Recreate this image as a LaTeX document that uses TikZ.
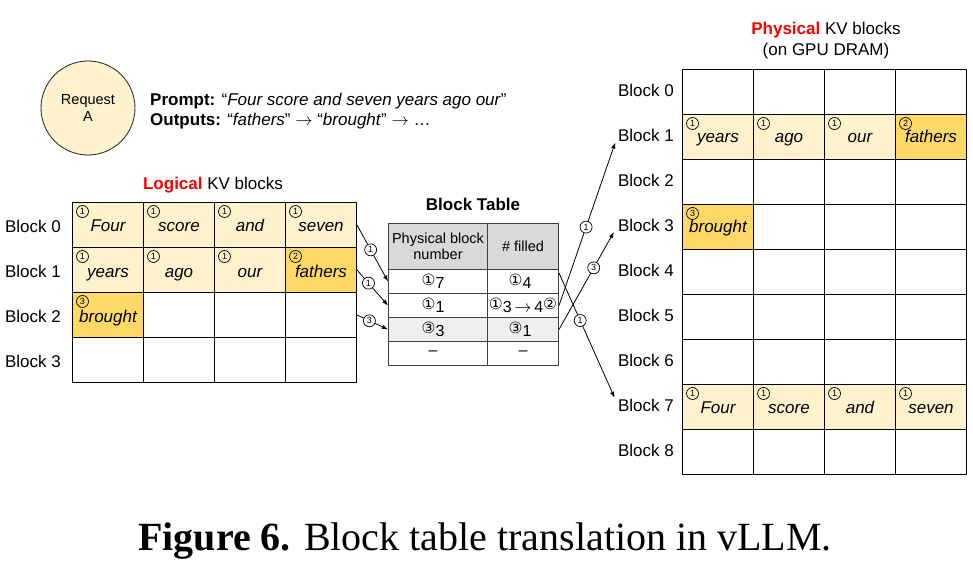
\documentclass[tikz,border=0pt]{standalone}
\usepackage{fontspec}
\setmainfont{Liberation Sans}
\newfontfamily\capfont{Liberation Serif}
\newfontfamily\symfont{DejaVu Sans}
\usetikzlibrary{arrows.meta}
\definecolor{kvlite}{HTML}{FFF2CC}
\definecolor{kvdark}{HTML}{FFD966}
\definecolor{hdrgrey}{HTML}{D9D9D9}
\definecolor{rowgrey}{HTML}{EFEFEF}
\definecolor{kvred}{HTML}{FF0000}
\newcommand{\cnum}[1]{\raisebox{2.5pt}{\symfont\fontsize{15.5}{15.5}\selectfont #1}}

\begin{document}
\begin{tikzpicture}[x=1pt,y=-1pt,
    cell/.style={draw, line width=1pt, minimum width=71pt, minimum height=45pt, inner sep=0pt,
        anchor=north west, text height=15pt, text depth=3pt, font=\fontsize{17}{17}\selectfont\itshape},
    num/.style={draw, circle, line width=0.7pt, inner sep=0pt, minimum size=12pt, font=\fontsize{9}{9}\selectfont},
    lbl/.style={anchor=east, inner sep=0pt, font=\fontsize{17}{17}\selectfont},
    tcell/.style={draw=black!75, line width=1pt, inner sep=0pt, anchor=north west, font=\fontsize{16}{16}\selectfont},
    link/.style={-{Latex[length=6pt,width=4.5pt]}, line width=0.8pt}]
    \useasboundingbox (0,0) rectangle (973,569);

    \node[draw=black!80, fill=kvlite, circle, line width=0.9pt, minimum size=94pt, align=center,
        font=\fontsize{14.5}{17}\selectfont] (req) at (88,108) {Request\\A};
    \node[anchor=base west, inner sep=0pt, font=\fontsize{17}{17}\selectfont] (prompt) at (150,105.5)
        {\textbf{Prompt:} “\textit{Four score and seven years ago our}”};
    \node[anchor=base west, inner sep=0pt, font=\fontsize{17}{17}\selectfont] (outputs) at ([yshift=-20pt]prompt.base west)
        {\textbf{Outputs:} “\textit{fathers}” $\rightarrow$ “\textit{brought}” $\rightarrow$ …};

    \node[anchor=base, font=\fontsize{17}{17}\selectfont] (ltitle) at (213,189.3)
        {\textcolor{kvred}{\textbf{Logical}} KV blocks};
    \foreach \r in {0,...,3} {
        \node[lbl] (lb\r) at (61,226.5+45*\r) {Block \r};
        \foreach \c in {0,...,3}
            \node[cell] (l\r\c) at (72+71*\c,202+45*\r) {};
    }
    \foreach \r/\c/\n/\w/\f in {0/0/1/Four/kvlite, 0/1/1/score/kvlite, 0/2/1/and/kvlite, 0/3/1/seven/kvlite,
        1/0/1/years/kvlite, 1/1/1/ago/kvlite, 1/2/1/our/kvlite, 1/3/2/fathers/kvdark, 2/0/3/brought/kvdark} {
        \node[cell, fill=\f, text height=17pt] at (l\r\c.north west) {\w};
        \node[num] at ([shift={(10.5,9.5)}]l\r\c.north west) {\n};
    }

    \node[anchor=base, font=\fontsize{17}{17}\selectfont\bfseries] (ttitle) at (473,211) {Block Table};
    \node[tcell, fill=hdrgrey, minimum width=99pt, minimum height=46pt, align=center,
        font=\fontsize{14.5}{16}\selectfont] (ha) at (388,223) {Physical block\\number};
    \node[tcell, fill=hdrgrey, minimum width=71pt, minimum height=46pt,
        font=\fontsize{14.5}{16}\selectfont] (hb) at (487,223) {\# filled};
    \foreach \i/\p/\f/\g in {1/{\cnum{①}7}/{\cnum{①}4\hspace*{6pt}}/white,
        2/{\cnum{①}1}/{\cnum{①}3\,$\rightarrow$\,4\cnum{②}}/white,
        3/{\cnum{③}3}/{\cnum{③}1\hspace*{6pt}}/rowgrey, 4/{–}/{–}/white} {
        \node[tcell, fill=\g, minimum width=99pt, minimum height=24pt] (a\i) at (388,{269+24*(\i-1)}) {\p\hspace*{10pt}};
        \node[tcell, fill=\g, minimum width=71pt, minimum height=24pt] (b\i) at (487,{269+24*(\i-1)}) {\f};
    }

    \node[anchor=base, font=\fontsize{17}{17}\selectfont] (ptitle) at (826,35)
        {\textcolor{kvred}{\textbf{Physical}} KV blocks};
    \node[anchor=base, font=\fontsize{17}{17}\selectfont] (psub) at (826,55.5) {(on GPU DRAM)};
    \foreach \r in {0,...,8} {
        \node[lbl] (pb\r) at (674,90+45*\r) {Block \r};
        \foreach \c in {0,...,3}
            \node[cell] (p\r\c) at (682+71*\c,69+45*\r) {};
    }
    \foreach \r/\c/\n/\w/\f in {1/0/1/years/kvlite, 1/1/1/ago/kvlite, 1/2/1/our/kvlite, 1/3/2/fathers/kvdark,
        3/0/3/brought/kvdark, 7/0/1/Four/kvlite, 7/1/1/score/kvlite, 7/2/1/and/kvlite, 7/3/1/seven/kvlite} {
        \node[cell, fill=\f] at (p\r\c.north west) {\w};
        \node[num] at ([shift={(10.5,9.5)}]p\r\c.north west) {\n};
    }

    \draw[link] (l03.east) -- node[num, fill=white, pos=0.44] {1} (a1.west);
    \draw[link] (l13.east) -- node[num, fill=white, pos=0.37] {1} (a2.west);
    \draw[link] (l23.east) -- node[num, fill=white, pos=0.4] {3} (a3.west);

    \draw[link, shorten >=8pt] (b2.east) -- node[num, fill=white, pos=0.46] {1} (pb1.west);
    \draw[link, shorten >=8pt] (b3.east) -- node[num, fill=white, pos=0.59] {3} (pb3.west);
    \draw[link, shorten >=8pt] ([yshift=-4pt]b1.north east) -- node[num, fill=white, pos=0.36] {1} (pb7.west);

    \node[anchor=base, font=\capfont\fontsize{40}{40}\selectfont] (caption) at (485,550)
        {\textbf{Figure 6.} Block table translation in vLLM.};
\end{tikzpicture}
\end{document}
